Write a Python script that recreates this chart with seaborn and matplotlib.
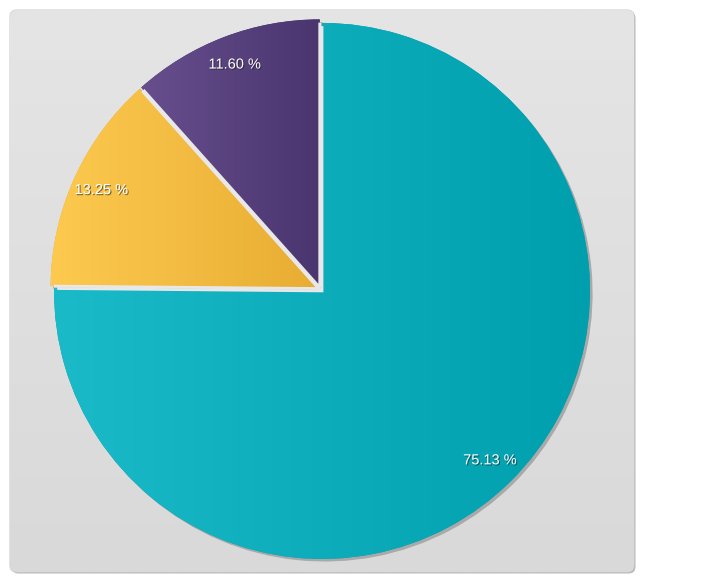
import numpy as np
import matplotlib
matplotlib.use("Agg")
import matplotlib.pyplot as plt
import matplotlib.patheffects as pe
from matplotlib.patches import FancyBboxPatch, PathPatch, Circle
from matplotlib.colors import LinearSegmentedColormap
import seaborn as sns

# slice values (percent), clockwise from 12 o'clock
shares = [75.13, 13.25, 11.60]
light_colors = ['#1bbac9', '#fdc94f', '#674f8d']
dark_colors = ['#009fae', '#e8ad33', '#4a356f']

sns.set_style('white')
plt.rcParams['font.family'] = ['Liberation Sans', 'DejaVu Sans']

fig = plt.figure(figsize=(7.2, 5.8), dpi=100)
fig.patch.set_facecolor('white')

# background panel with rounded corners and vertical gradient
bg = fig.add_axes([0, 0, 1, 1])
bg.axis('off')
box = 'round,pad=0,rounding_size=7'
bg.add_patch(FancyBboxPatch((11.5, 11.5), 624, 562, boxstyle=box, fc='#b8b8b8', ec='none'))
panel = FancyBboxPatch((10, 10), 624, 562, boxstyle=box, fc='#dedede', ec='#cccccc', lw=0.8)
bg.add_patch(panel)
panel_cm = LinearSegmentedColormap.from_list('panel', ['#e5e5e5', '#d9d9d9'])
im = bg.imshow(np.linspace(0, 1, 256).reshape(-1, 1), cmap=panel_cm,
               extent=(10, 634, 572, 10), aspect='auto', zorder=2)
im.set_clip_path(panel)
bg.set_xlim(0, 720)
bg.set_ylim(580, 0)

# pie
r_px = 268
side = 2.2 * r_px
cx, cy = 320.5, 580 - 289.4
ax = fig.add_axes([(cx - side / 2) / 720, (cy - side / 2) / 580, side / 720, side / 580])
wedges, texts, autotexts = ax.pie(
    shares, startangle=90, counterclock=False, explode=[0.008] * 3,
    colors=dark_colors, autopct='%.2f', pctdistance=0.89,
    shadow={'ox': 0.007, 'oy': -0.007, 'facecolor': '#a9a9a9',
            'edgecolor': 'none', 'alpha': 1},
    wedgeprops=dict(edgecolor='none', zorder=1), frame=False)

grad = np.linspace(0, 1, 256).reshape(1, -1)
for w, c0, c1 in zip(wedges, light_colors, dark_colors):
    ext = w.get_path().get_extents()
    cm = LinearSegmentedColormap.from_list('g', [c0, c1])
    gi = ax.imshow(grad, cmap=cm, extent=(ext.x0, ext.x1, ext.y0, ext.y1),
                   aspect='auto', zorder=1.5)
    gi.set_clip_path(w)
    # light border on the straight edges only
    edge = PathPatch(w.get_path(), fc='none', ec='#e8e8e8', lw=2, zorder=2)
    ax.add_patch(edge)
    edge.set_clip_path(Circle(w.center, w.r * 0.988, transform=ax.transData))

for t, v in zip(autotexts, shares):
    t.set_text(f'{v:.2f} %')
    t.set_color('white')
    t.set_fontsize(10.5)
    t.set_zorder(3)
    t.set_path_effects([pe.withSimplePatchShadow(offset=(0.8, -0.8),
                                                 shadow_rgbFace='#222222', alpha=0.6)])

ax.set_aspect('equal')
ax.set_xlim(-1.1, 1.1)
ax.set_ylim(-1.1, 1.1)
ax.axis('off')
ax.patch.set_alpha(0)

fig.savefig('out.png', dpi=100)
